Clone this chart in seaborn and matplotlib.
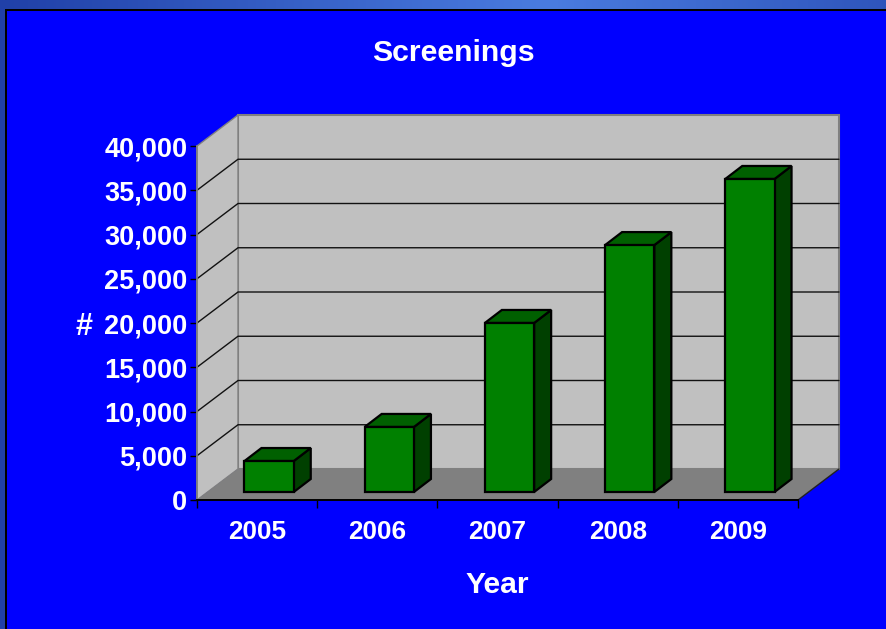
import numpy as np
import pandas as pd
import matplotlib
matplotlib.use('Agg')
import matplotlib.pyplot as plt
from matplotlib.patches import Polygon, Rectangle
from matplotlib.transforms import IdentityTransform
import seaborn as sns

years = ['2005', '2006', '2007', '2008', '2009']
screenings = [3500, 7350, 19100, 27900, 35370]
y_ticks = [0, 5000, 10000, 15000, 20000, 25000, 30000, 35000, 40000]

W, H = 886, 629
DEPTH = (41, 31)       # px, back wall offset
BAR_SHIFT = (12, 8)    # px, bars sit a bit inside the floor
BAR_DEPTH = (17, 13)   # px, bar side/top faces

sns.set_theme(style='white')
plt.rcParams['font.family'] = ['Liberation Sans', 'DejaVu Sans']

df = pd.DataFrame({'year': years, 'screenings': screenings})

fig = plt.figure(figsize=(W / 100, H / 100), dpi=100)

# slide background: gradient band with the pure blue panel on top
bg = fig.add_axes([0, 0, 1, 1], zorder=0)
band = np.interp(np.linspace(0, 1, 443), [0, 0.62, 1], [0, 1, 0.35])
band = np.outer(band, [0x4a - 0x20, 0x7c - 0x40, 0xe0 - 0xa8]) + [0x20, 0x40, 0xa8]
bg.imshow(band[None, :, :] / 255, aspect='auto', extent=(0, W, H, 0))
bg.add_patch(Rectangle((5, 9), W, H, color='black', lw=0))
bg.add_patch(Rectangle((7, 11), W, H, color='#0000ff', lw=0))
bg.set_xlim(0, W)
bg.set_ylim(H, 0)
bg.axis('off')

ax = fig.add_axes([197 / W, (H - 500) / H, 601 / W, 354 / H], zorder=1)
ax.patch.set_visible(False)
sns.barplot(data=df, x='year', y='screenings', color='#008000', saturation=1,
            width=0.41, edgecolor='black', linewidth=1.6, ax=ax, zorder=5)
ax.set_xlim(-0.5, 4.5)
ax.set_ylim(0, 40000)
ax.set_yticks(y_ticks, [f'{v:,}' for v in y_ticks])

px = IdentityTransform()
to_px = ax.transData.transform
x0, x1 = -0.5, 4.5
dx, dy = DEPTH


def face(points, color, z, edge='none', lw=0):
    ax.add_patch(Polygon(points, closed=True, facecolor=color, edgecolor=edge,
                         linewidth=lw, transform=px, zorder=z, clip_on=False,
                         joinstyle='miter'))


# walls and floor
bl = to_px((x0, 0))
br = to_px((x1, 0))
tl = to_px((x0, 40000))
tr = to_px((x1, 40000))
shift = np.array(DEPTH)
face([bl + shift, br + shift, tr + shift, tl + shift], '#c0c0c0', 1, '#808080', 1.5)
face([bl, bl + shift, tl + shift, tl], '#c0c0c0', 1, '#808080', 1)
face([bl, br, br + shift, bl + shift], '#808080', 2)

# gridlines run up the left wall, then across the back
for v in y_ticks[1:-1]:
    a = to_px((x0, v))
    b = a + shift
    c = to_px((x1, v)) + shift
    ax.plot([a[0], b[0], c[0]], [a[1], b[1], c[1]], color='#111111', lw=1,
            transform=px, zorder=3, clip_on=False)
ax.plot(*zip(br, br + shift), color='#222222', lw=1, transform=px, zorder=3, clip_on=False)

# move the seaborn bars onto the floor and give them side and top faces
sx, sy = BAR_SHIFT
bx, by = BAR_DEPTH
for bar in ax.patches[:len(years)]:
    (xa, ya), (xb, yb) = to_px(bar.get_bbox().get_points())
    xa, xb = xa + sx, xb + sx
    ya, yb = ya + sy, yb + sy
    bar.set_transform(px)
    bar.set_xy((xa, ya))
    bar.set_width(xb - xa)
    bar.set_height(yb - ya)
    bar.set_clip_on(False)
    face([(xb, ya), (xb + bx, ya + by), (xb + bx, yb + by), (xb, yb)],
         '#004000', 4, 'black', 1.6)
    face([(xa, yb), (xb, yb), (xb + bx, yb + by), (xa + bx, yb + by)],
         '#006000', 4, 'black', 1.6)

for side in ['top', 'right']:
    ax.spines[side].set_visible(False)
ax.spines['left'].set_color('#808080')
ax.spines['bottom'].set_color('black')
ax.spines['bottom'].set_linewidth(1.4)
ax.spines['left'].set_zorder(6)
ax.spines['bottom'].set_zorder(6)

ax.tick_params(axis='x', bottom=True, length=5, width=1, color='black',
               labelsize=18.8, labelcolor='white')
ax.tick_params(axis='y', left=True, length=5, width=1, color='black', pad=2,
               labelsize=19.5, labelcolor='white')
ax.set_xticks(np.arange(-0.5, 5.0), minor=True)
ax.tick_params(axis='x', which='major', length=0, pad=14.4)
ax.tick_params(axis='x', which='minor', bottom=True, length=6, width=1, color='black')
for lab in ax.get_xticklabels() + ax.get_yticklabels():
    lab.set_fontweight('bold')

ax.set_xlabel('Year', fontsize=21.7, fontweight='bold', color='white', labelpad=19.5)
ax.set_ylabel('')
fig.text(84 / W, 1 - 327 / H, '#', fontsize=22, fontweight='bold', color='white',
         ha='center', va='center')
fig.text(453 / W, 1 - 53 / H, 'Screenings', fontsize=21.8, fontweight='bold',
         color='white', ha='center', va='center')

fig.savefig('out.png', dpi=100)
